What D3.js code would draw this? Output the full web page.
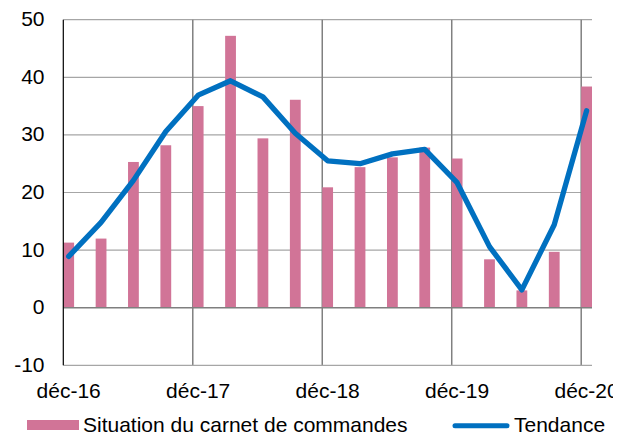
<!DOCTYPE html>
<html>
<head>
<meta charset="utf-8">
<script src="https://cdn.jsdelivr.net/npm/d3@7"></script>
<style>
	body { margin: 0; background: #fff; }
	text { font-family: "Liberation Sans", Arial, sans-serif; font-size: 21px; fill: #000; }
</style>
</head>
<body>
<div id="chart"></div>
<script>
// quarterly points, déc-16 .. déc-20 (month offset from déc-16)
const months = [0, 3, 6, 9, 12, 15, 18, 21, 24, 27, 30, 33, 36, 39, 42, 45, 48];
const carnet = [11.3, 12.0, 25.3, 28.2, 35.0, 47.2, 29.4, 36.1, 20.9, 24.4, 26.1, 27.8, 25.9, 8.4, 3.0, 9.7, 38.4];
const tendance = [8.9, 14.8, 22.1, 30.6, 36.9, 39.4, 36.6, 30.3, 25.5, 25.0, 26.7, 27.5, 21.7, 10.6, 3.1, 14.4, 34.2];
const xTickMonths = [0, 12, 24, 36, 48];
const xTickLabels = ["déc-16", "déc-17", "déc-18", "déc-19", "déc-20"];
const yTicks = [-10, 0, 10, 20, 30, 40, 50];

const width = 629, height = 434;
const plotLeft = 63.3, plotRight = 592, plotTop = 19.7, plotBottom = 365.3;
const barColor = "#d17497", lineColor = "#0070c0";

const svg = d3.select("#chart").append("svg")
	.attr("width", width)
	.attr("height", height);

// one slot per month, last slot is déc-20
const xscale = d3.scaleLinear().domain([0, 49]).range([plotLeft, plotRight]);
const yscale = d3.scaleLinear().domain([-10, 50]).range([plotBottom, plotTop]);
const slot = xscale(1) - xscale(0);

// horizontal grid
svg.append("g")
	.selectAll("line").data(yTicks.filter(d => d != 0 && d != -10))
	.join("line")
	.attr("x1", plotLeft).attr("x2", plotRight)
	.attr("y1", d => yscale(d)).attr("y2", d => yscale(d))
	.attr("stroke", "#a6a6a6").attr("stroke-width", 1.2);

// vertical grid
svg.append("g")
	.selectAll("line").data(xTickMonths.slice(1))
	.join("line")
	.attr("x1", d => xscale(d)).attr("x2", d => xscale(d))
	.attr("y1", plotTop).attr("y2", plotBottom)
	.attr("stroke", "#808080").attr("stroke-width", 1.5);

// bars
svg.append("g")
	.selectAll("rect").data(carnet)
	.join("rect")
	.attr("x", (d, i) => xscale(months[i]))
	.attr("width", slot)
	.attr("y", d => yscale(Math.max(0, d)))
	.attr("height", d => Math.abs(yscale(d) - yscale(0)))
	.attr("fill", barColor);

// zero line and bottom line
svg.append("line")
	.attr("x1", plotLeft).attr("x2", plotRight)
	.attr("y1", yscale(0)).attr("y2", yscale(0))
	.attr("stroke", "#7f7f7f").attr("stroke-width", 1.5);
svg.append("line")
	.attr("x1", plotLeft).attr("x2", plotRight)
	.attr("y1", yscale(-10)).attr("y2", yscale(-10))
	.attr("stroke", "#a6a6a6").attr("stroke-width", 1.2);

// left axis
svg.append("line")
	.attr("x1", plotLeft).attr("x2", plotLeft)
	.attr("y1", plotTop).attr("y2", plotBottom)
	.attr("stroke", "#000").attr("stroke-width", 1.2);

// trend line
svg.append("path").datum(tendance)
	.attr("fill", "none")
	.attr("stroke", lineColor)
	.attr("stroke-width", 5.3)
	.attr("stroke-linejoin", "round")
	.attr("stroke-linecap", "round")
	.attr("d", d3.line()
		.x((d, i) => xscale(months[i]) + slot / 2)
		.y(d => yscale(d)));

// y labels
svg.append("g")
	.selectAll("text").data(yTicks)
	.join("text")
	.attr("x", 44.5)
	.attr("y", d => yscale(d) + 6.5)
	.attr("text-anchor", "end")
	.text(d => d);

// x labels (clipped at the right like the original)
svg.append("clipPath").attr("id", "xclip")
	.append("rect").attr("x", 0).attr("y", 370).attr("width", 613).attr("height", 40);
svg.append("g")
	.attr("clip-path", "url(#xclip)")
	.selectAll("text").data(xTickMonths)
	.join("text")
	.attr("x", d => xscale(d) + slot / 2)
	.attr("y", 398)
	.attr("text-anchor", "middle")
	.text((d, i) => xTickLabels[i]);

// legend
const legend = svg.append("g");
legend.append("rect")
	.attr("x", 27).attr("y", 420).attr("width", 52).attr("height", 10)
	.attr("fill", barColor);
legend.append("text")
	.attr("x", 83).attr("y", 431.5)
	.text("Situation du carnet de commandes");
legend.append("line")
	.attr("x1", 455).attr("x2", 507)
	.attr("y1", 425.7).attr("y2", 425.7)
	.attr("stroke", lineColor).attr("stroke-width", 5)
	.attr("stroke-linecap", "round");
legend.append("text")
	.attr("x", 514).attr("y", 431.5)
	.text("Tendance");
</script>
</body>
</html>
